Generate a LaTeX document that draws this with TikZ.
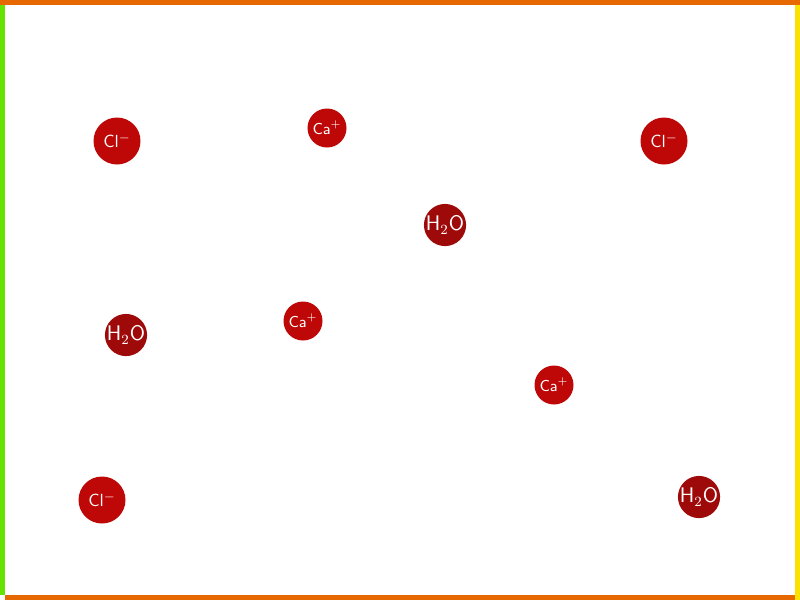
\documentclass[tikz,border=0pt]{standalone}
\usetikzlibrary{positioning}
\definecolor{ionred}{RGB}{190,8,8}
\definecolor{waterred}{RGB}{158,10,10}
\definecolor{edgeorange}{RGB}{232,104,0}
\definecolor{edgegreen}{RGB}{104,226,0}
\definecolor{edgeyellow}{RGB}{252,226,0}

\begin{document}
\begin{tikzpicture}[%
    x=0.02cm, y=-0.02cm,          % one unit per pixel, top-left origin
    ]
% -------------------------------------------------
% Particle styles
\tikzset{
  base/.style={circle, inner sep=0pt, text=white, font={\sffamily}},
  chloride/.style={base, fill=ionred, minimum size=0.94cm},
  calcium/.style={base, fill=ionred, minimum size=0.78cm, font={\sffamily\small}},
  water/.style={base, fill=waterred, minimum size=0.82cm, font={\sffamily\large}},
}
% -------------------------------------------------
% Frame
\useasboundingbox (0,0) rectangle (800,600);
\fill [white] (0,0) rectangle (800,600);
\fill [edgeorange] (0,0) rectangle (800,5);       % top
\fill [edgegreen] (0,5) rectangle (5,595);        % left
\fill [edgeyellow] (795,5) rectangle (800,600);   % right
\fill [edgeorange] (5,595) rectangle (795,600);   % bottom

% -------------------------------------------------
% Particles
\node [chloride] (cla) at (117,141) {Cl$^-$};
\node [calcium]  (caa) at (327,128) {Ca$^+$};
\node [chloride] (clb) at (664,141) {Cl$^-$};
\node [water]    (wa)  at (445,225) {H$_2$O};
\node [water]    (wb)  at (126,335) {H$_2$O};
\node [calcium]  (cab) at (303,321) {Ca$^+$};
\node [calcium]  (cac) at (554,385) {Ca$^+$};
\node [chloride] (clc) at (102,500) {Cl$^-$};
\node [water]    (wc)  at (699,497) {H$_2$O};

% -------------------------------------------------
\end{tikzpicture}
\end{document}
